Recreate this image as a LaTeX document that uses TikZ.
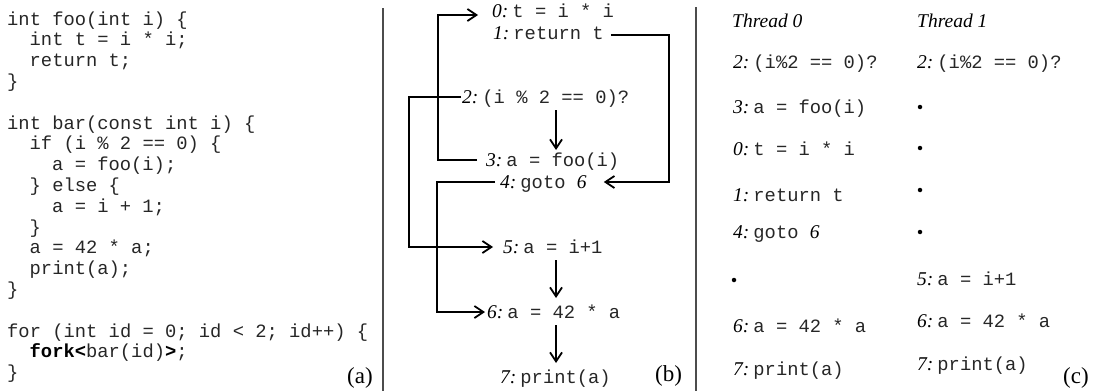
\documentclass[tikz,border=0pt]{standalone}
\usepackage{fontspec}
\setmainfont{Liberation Serif}
\setmonofont{Liberation Mono}
\usetikzlibrary{arrows.meta,calc}
\newcommand\lnum[1]{{\fontsize{19.5}{22}\selectfont\itshape\color{black}#1}\hspace{4pt}}
\begin{document}
\begin{tikzpicture}[x=1pt,y=-1pt,
  code/.style={font=\fontsize{18.8}{21}\selectfont\ttfamily, text=black!85, inner sep=0pt, anchor=base west},
  stmt/.style={font=\fontsize{18.8}{21}\selectfont, text=black!85, inner sep=0pt, anchor=base west},
  hdr/.style={font=\fontsize{19.5}{22}\selectfont\itshape, inner sep=0pt, anchor=base west},
  panel/.style={font=\fontsize{23}{26}\selectfont, inner sep=0pt, anchor=base west},
  sep/.style={line width=1.1pt, draw=black!70},
  arr/.style={line width=1.8pt, -{Straight Barb[length=9pt,width=12pt,line width=1.8pt]}},
  dotn/.style={circle, fill=black, inner sep=0pt, minimum size=4.5pt}]
\useasboundingbox (0,0) rectangle (1094,391);

% ---------- panel (a)
\node[code] (a1) at (7,25) {int foo(int i) \{};
\node[code] (a2) at (29.5,45.8) {int t = i * i;};
\node[code] (a3) at (29.5,66.6) {return t;};
\node[code] (a4) at (7,87.4) {\}};
\node[code] (a6) at (7,129) {int bar(const int i) \{};
\node[code] (a7) at (29.5,149.8) {if (i \% 2 == 0) \{};
\node[code] (a8) at (52,170.6) {a = foo(i);};
\node[code] (a9) at (29.5,191.4) {\} else \{};
\node[code] (a10) at (52,212.2) {a = i + 1;};
\node[code] (a11) at (29.5,233) {\}};
\node[code] (a12) at (29.5,253.8) {a = 42 * a;};
\node[code] (a13) at (29.5,274.6) {print(a);};
\node[code] (a14) at (7,295.4) {\}};
\node[code] (a16) at (7,337) {for (int id = 0; id < 2; id++) \{};
\node[code] (a17) at (29.5,357.8) {\textbf{\color{black}fork<}bar(id)\textbf{\color{black}>};};
\node[code] (a18) at (7,378.6) {\}};
\node[panel] (pa) at (347,383) {(a)};

% separators
\draw[sep] (383,8) -- (383,391);
\draw[sep] (696,7) -- (696,391);

% ---------- panel (b)
\node[stmt] (n0) at (492,17) {\lnum{0:}\texttt{t = i * i}};
\node[stmt] (n1) at (493,39) {\lnum{1:}\texttt{return t}};
\node[stmt] (n2) at (462,103) {\lnum{2:}\texttt{(i \% 2 == 0)?}};
\node[stmt] (n3) at (486,166) {\lnum{3:}\texttt{a = foo(i)}};
\node[stmt] (n4) at (500,188) {\lnum{4:}\texttt{goto\ }\textit{\fontsize{19.5}{22}\selectfont\color{black}6}};
\node[stmt] (n5) at (503,253) {\lnum{5:}\texttt{a = i+1}};
\node[stmt] (n6) at (487,318) {\lnum{6:}\texttt{a = 42 * a}};
\node[stmt] (n7) at (500,383) {\lnum{7:}\texttt{print(a)}};
\node[panel] (pb) at (655,381) {(b)};
\coordinate (xc) at (556,0);

\draw[arr] ([shift={(-9,-6)}]n3.base west) -- ++(-39,0) |- ([shift={(-14,-2)}]n0.base west);
\draw[arr] ([shift={(7,-4)}]n1.base east) -- ++(58,0) |- ([shift={(17,-6)}]n4.base east);
\draw[arr] ([shift={(-1,-6)}]n2.base west) -- ++(-52,0) |- ([shift={(-10,-6)}]n5.base west);
\draw[arr] ([shift={(-5,-6)}]n4.base west) -- ++(-58,0) |- ([shift={(-2,-6)}]n6.base west);
\draw[arr] ($(xc |- n2.base)+(0,7)$) -- ($(xc |- n3.base)+(0,-16)$);
\draw[arr] ($(xc |- n5.base)+(0,7)$) -- ($(xc |- n6.base)+(0,-20)$);
\draw[arr] ($(xc |- n6.base)+(0,7)$) -- ($(xc |- n7.base)+(0,-20)$);

% ---------- panel (c)
\node[hdr] (h0) at (732,27) {Thread 0};
\node[hdr] (h1) at (917,27) {Thread 1};

\node[stmt] (t02) at (733,68) {\lnum{2:}\texttt{(i\%2 == 0)?}};
\node[stmt] (t03) at (733,113) {\lnum{3:}\texttt{a = foo(i)}};
\node[stmt] (t00) at (733,155) {\lnum{0:}\texttt{t = i * i}};
\node[stmt] (t01) at (733,201) {\lnum{1:}\texttt{return t}};
\node[stmt] (t04) at (733,238) {\lnum{4:}\texttt{goto\ }\textit{\fontsize{19.5}{22}\selectfont\color{black}6}};
\node[dotn] (t0d) at (734,280) {};
\node[stmt] (t06) at (733,332) {\lnum{6:}\texttt{a = 42 * a}};
\node[stmt] (t07) at (733,375) {\lnum{7:}\texttt{print(a)}};

\node[stmt] (t12) at (917,68) {\lnum{2:}\texttt{(i\%2 == 0)?}};
\node[dotn] (t1a) at (920,107) {};
\node[dotn] (t1b) at (920,148) {};
\node[dotn] (t1c) at (920,190) {};
\node[dotn] (t1d) at (920,232) {};
\node[stmt] (t15) at (917,285) {\lnum{5:}\texttt{a = i+1}};
\node[stmt] (t16) at (917,327) {\lnum{6:}\texttt{a = 42 * a}};
\node[stmt] (t17) at (917,370) {\lnum{7:}\texttt{print(a)}};
\node[panel] (pc) at (1063,383) {(c)};
\end{tikzpicture}
\end{document}
